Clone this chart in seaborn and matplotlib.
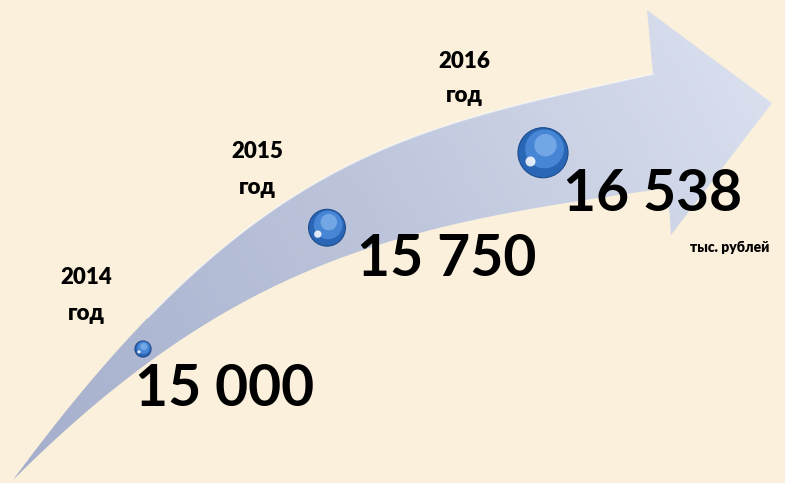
import numpy as np
import seaborn as sns
import matplotlib.pyplot as plt
from matplotlib.patches import Polygon
from matplotlib.colors import LinearSegmentedColormap

# --- Data ---
YEARS = ["2014", "2015", "2016"]
VALUES = [15000, 15750, 16538]
UNIT = "тыс. рублей"

# --- Layout (pixels, y grows downward) ---
W, H = 785, 483
BUBBLE_X = [143, 327, 543]          # where each bubble sits along the arrow
BUBBLE_FRAC = [0.6, 0.59, 0.5]      # 0 = top edge of arrow, 1 = bottom edge
VALUE_OFFSET = [(-8, 57), (30, 48), (20, 58)]    # label left/baseline vs bubble
YEAR_POS = [(86, 278), (257, 152), (464, 61)]
SIZES = (135, 1300)

BG = "#faf0dc"
ARROW_DARK = "#a4aecb"
ARROW_LIGHT = "#dde3f0"

plt.rcParams['font.family'] = ['Lato', 'DejaVu Sans']


def bezier(p0, p1, p2, p3, n=200):
    t = np.linspace(0, 1, n)[:, None]
    p0, p1, p2, p3 = (np.asarray(p, float) for p in (p0, p1, p2, p3))
    return ((1 - t) ** 3 * p0 + 3 * (1 - t) ** 2 * t * p1
            + 3 * (1 - t) * t ** 2 * p2 + t ** 3 * p3)


top_edge = bezier((13, 480), (253, 154), (403, 129), (653, 74))
bottom_edge = bezier((13, 480), (243, 250), (418, 223), (668, 188))
head = np.array([(647, 10), (772, 103), (671, 235)])

outline = np.vstack([top_edge, head, bottom_edge[::-1]])

fig = plt.figure(figsize=(W / 100, H / 100), dpi=100)
fig.patch.set_facecolor(BG)
ax = fig.add_axes([0, 0, 1, 1])
ax.set_facecolor(BG)

# arrow with a soft gradient
poly = Polygon(outline, closed=True, facecolor="none", edgecolor="none")
ax.add_patch(poly)
gx, gy = np.meshgrid(np.linspace(0, 1, 300), np.linspace(0, 1, 200))
grad = 0.75 * gx + 0.25 * (1 - gy)
cmap = LinearSegmentedColormap.from_list("arrow", [ARROW_DARK, "#bdc5dc", ARROW_LIGHT])
img = ax.imshow(grad, extent=[0, W, H, 0], cmap=cmap, aspect="auto", zorder=1)
img.set_clip_path(poly)
ax.plot(top_edge[40:, 0], top_edge[40:, 1], color="white", lw=1.2, alpha=0.55, zorder=2)

# bubble centres along the arrow
bx = np.array(BUBBLE_X, float)
ty = np.interp(bx, top_edge[:, 0], top_edge[:, 1])
by_ = np.interp(bx, bottom_edge[:, 0], bottom_edge[:, 1])
by = ty + (by_ - ty) * np.array(BUBBLE_FRAC)

sns.scatterplot(x=bx, y=by, size=VALUES, sizes=SIZES, color="#2a66b6",
                edgecolor="#1e4c8c", linewidth=0.8, legend=False, ax=ax, zorder=4)

# glossy shading on the spheres
s = np.interp(VALUES, [min(VALUES), max(VALUES)], SIZES)
r = np.sqrt(s) / 0.72 / 2
ax.scatter(bx + r * 0.06, by - r * 0.15, s=s * 0.6, color="#4f8fdc", alpha=0.8,
           linewidths=0, zorder=5)
ax.scatter(bx + r * 0.1, by - r * 0.3, s=s * 0.2, color="#8fbdf0", alpha=0.6,
           linewidths=0, zorder=5)
ax.scatter(bx - r * 0.5, by + r * 0.35, s=s * 0.04, color="white", alpha=0.85,
           linewidths=0, zorder=6)

# value labels
for x, y, v, (dx, dy) in zip(bx, by, VALUES, VALUE_OFFSET):
    ax.text(x + dx, y + dy, f"{v:,}".replace(",", " "), fontsize=41,
            fontweight="bold", color="black", ha="left", va="baseline", zorder=7)

# year labels
for (x, y), yr in zip(YEAR_POS, YEARS):
    ax.text(x, y, yr, fontsize=16, fontweight="heavy", ha="center", va="center", zorder=7)
    ax.text(x, y + 35, "год", fontsize=16, fontweight="heavy", ha="center", va="center", zorder=7)

ax.text(730, 248, UNIT, fontsize=10, fontweight="heavy", ha="center", va="center", zorder=7)

ax.set_xlim(0, W)
ax.set_ylim(H, 0)
ax.axis("off")

fig.savefig("out.png", dpi=100, facecolor=BG)
